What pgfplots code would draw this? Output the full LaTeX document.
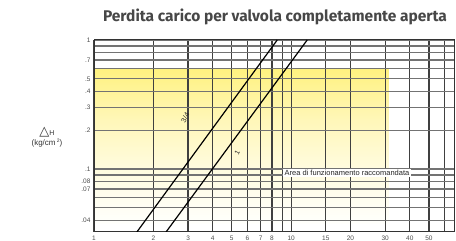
\documentclass[border=0pt]{standalone}
\usepackage{pgfplots}
\pgfplotsset{compat=1.18}
\usepgfplotslibrary{patchplots}
\usepackage{fontspec}
\setmainfont{Liberation Sans}
\newfontfamily\titlefont{Fira Sans}
\newfontfamily\dejavu{DejaVu Sans}
\begin{document}
\begin{tikzpicture}
\node[font=\titlefont\bfseries\fontsize{15.5}{17}\selectfont, text=black!72] at (275pt,224pt) {Perdita carico per valvola completamente aperta};
\node[align=center, font=\fontsize{8}{9}\selectfont, text=black!80, inner sep=0pt] at (47pt,104pt)
  {{\dejavu\bfseries\fontsize{13}{13}\selectfont △}\raisebox{0pt}{\fontsize{7}{8}\selectfont H}\\[1pt](kg/cm\,\raisebox{3pt}{\fontsize{5}{5}\selectfont 2})};
\begin{axis}[
  set layers,
  at={(94pt,9pt)}, anchor=south west,
  scale only axis, width=360pt, height=192pt,
  xmode=log, ymode=log,
  xmin=1, xmax=67, ymin=0.0325, ymax=1,
  xtick={1,2,3,4,5,6,7,8,9,10,15,20,30,40,50,60},
  xticklabels={1,2,3,4,5,6,7,8,,10,15,20,30,40,50,},
  ytick={0.04,0.05,0.06,0.07,0.08,0.09,0.1,0.2,0.3,0.4,0.5,0.6,0.7,0.8,0.9,1},
  yticklabels={.04,,,.07,.08,,.1,.2,.3,.4,.5,,.7,,,1},
  minor xtick={}, minor ytick={},
  major tick length=0pt,
  xmajorgrids, ymajorgrids,
  x grid style={black!75, line width=1.2pt},
  y grid style={black!55, line width=1.2pt},
  axis line style={black!80, line width=1pt},
  ticklabel style={font=\fontsize{6.5}{7}\selectfont, text=black!70},
  xticklabel style={yshift=-0.5pt},
  /pgf/number format/assume math mode=true,
  colormap={yel}{rgb255=(255,255,252) rgb255=(255,252,225) rgb255=(255,247,185) rgb255=(255,242,128)},
  point meta min=0, point meta max=1,
]
\addplot[on layer=axis background, patch, patch type=rectangle, shader=interp, point meta=explicit]
  coordinates {(1,0.038) [0] (31,0.038) [0] (31,0.6) [1] (1,0.6) [1]};
\addplot[black, line width=1.2pt] coordinates {(1.65,0.0325) (8.5,1)};
\addplot[black, line width=1.2pt] coordinates {(2.32,0.0325) (12.06,1)};
\node[rotate=62, font=\fontsize{7}{8}\selectfont, text=black!85] at (axis cs:2.9,0.25) {3/4};
\node[rotate=62, font=\fontsize{7}{8}\selectfont, text=black!85] at (axis cs:5.32,0.135) {1};
\node[fill=white, inner sep=1.5pt, font=\fontsize{7.5}{8}\selectfont, text=black!85] at (axis cs:19.2,0.093) {Area di funzionamento raccomandata};
\end{axis}
\pgfresetboundingbox
\useasboundingbox (0,0) rectangle (456pt,241pt);
\end{tikzpicture}
\end{document}
